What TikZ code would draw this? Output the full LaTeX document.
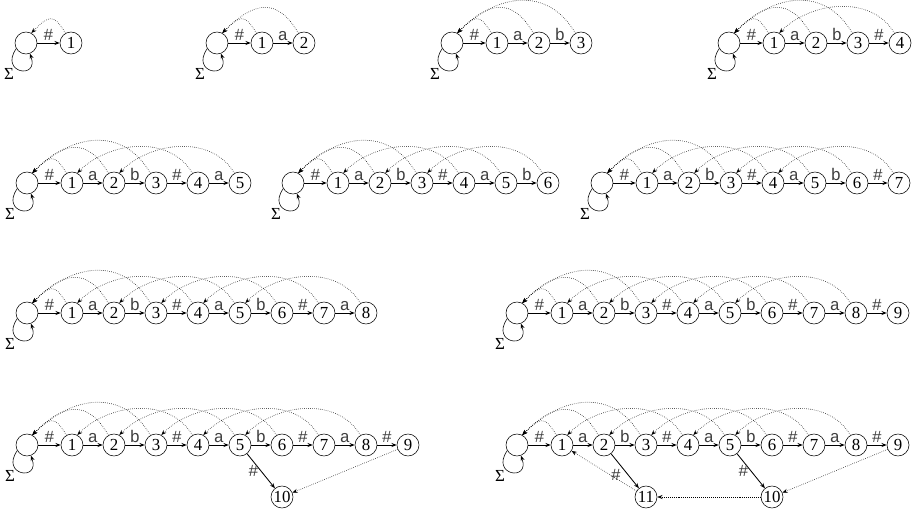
\documentclass[tikz,border=0pt]{standalone}
\usepackage{fontspec}
\setmainfont{Liberation Serif}
\setmonofont{Liberation Mono}
\usetikzlibrary{arrows.meta}

% one row of states 0..#1 with the forward edges
\newcommand{\staterow}[1]{%
  \node[state] (q0) at (0,0) {};
  \draw[->] (q0.210) .. controls +(235:30) and +(290:28) .. (q0.290);
  \node (sig) at (-17,-31) {Σ};
  \foreach \i/\c in {1/\#,2/a,3/b,4/\#,5/a,6/b,7/\#,8/a,9/\#} {
    \ifnum\i>#1\relax\else
      \pgfmathtruncatemacro{\j}{\i-1}
      \node[state] (q\i) at (3+42*\i,0) {\i};
      \draw[trans] (q\j) -- node[lbl] {\c} (q\i);
    \fi
  }
}
% failure links of the states 1..#1
\newcommand{\faillinks}[1]{%
  \foreach \s/\t/\l in {1/0/1.8,2/0/1.45,3/0/1.2,4/1/1,5/2/1,6/3/1,7/4/1,8/5/1} {
    \ifnum\s>#1\relax\else
      \draw[fail] (q\s.120) to[out=120, in=45, looseness=\l] (q\t.62);
    \fi
  }
}

\begin{document}
\fontsize{12}{14}\selectfont
\begin{tikzpicture}[x=0.25mm, y=0.25mm, >={Stealth[length=1.3mm,width=1mm]},
  state/.style={circle, draw, minimum size=5.5mm, inner sep=0pt},
  trans/.style={->, semithick},
  fail/.style={->, densely dotted},
  lbl/.style={font=\ttfamily, text=black!75, above, inner sep=1.5pt}]
  \useasboundingbox (0,0) rectangle (914,512);

  % first row
  \begin{scope}[shift={(26,469)}, name prefix=p1-]
    \staterow{1} \faillinks{1}
  \end{scope}
  \begin{scope}[shift={(217,469)}, name prefix=p2-]
    \staterow{2} \faillinks{2}
  \end{scope}
  \begin{scope}[shift={(452,469)}, name prefix=p3-]
    \staterow{3} \faillinks{3}
  \end{scope}
  \begin{scope}[shift={(729,469)}, name prefix=p4-]
    \staterow{4} \faillinks{4}
  \end{scope}

  % second row
  \begin{scope}[shift={(27,329)}, name prefix=p5-]
    \staterow{5} \faillinks{5}
  \end{scope}
  \begin{scope}[shift={(293,329)}, name prefix=p6-]
    \staterow{6} \faillinks{6}
  \end{scope}
  \begin{scope}[shift={(602,329)}, name prefix=p7-]
    \staterow{7} \faillinks{7}
  \end{scope}

  % third row
  \begin{scope}[shift={(27,199)}, name prefix=p8-]
    \staterow{8} \faillinks{8}
  \end{scope}
  \begin{scope}[shift={(517,199)}, name prefix=p9-]
    \staterow{9} \faillinks{8}
  \end{scope}

  % last row
  \begin{scope}[shift={(27,67)}, name prefix=p10-]
    \staterow{9} \faillinks{8}
    \node[state] (q10) at (255,-52) {10};
    \draw[trans] (q5) -- node[lbl, left, pos=0.5] {\#} (q10);
    \draw[fail] (q9) -- (q10);
  \end{scope}
  \begin{scope}[shift={(517,67)}, name prefix=p11-]
    \staterow{9} \faillinks{8}
    \node[state] (q10) at (255,-52) {10};
    \node[state] (q11) at (129,-52) {11};
    \draw[trans] (q5) -- node[lbl, left, pos=0.5] {\#} (q10);
    \draw[trans] (q2) -- node[lbl, left=3pt, pos=0.6] {\#} (q11);
    \draw[fail] (q9) -- (q10);
    \draw[fail] (q10) -- (q11);
    \draw[fail] (q11) -- (q1);
  \end{scope}
\end{tikzpicture}
\end{document}
